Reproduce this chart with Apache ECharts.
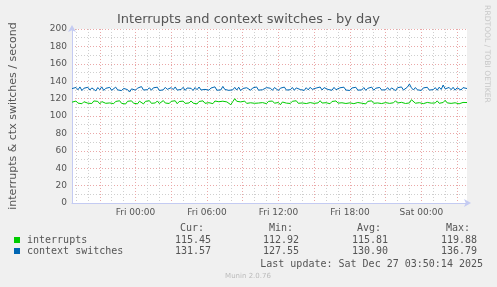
<!DOCTYPE html>
<html><head><meta charset="utf-8">
<script src="https://cdn.jsdelivr.net/npm/echarts@6/dist/echarts.min.js"></script>
<style>html,body{margin:0;padding:0;background:#f0f0f0}#c{width:497px;height:287px}</style>
</head><body><div id="c"></div>
<script>
const titleText = 'Interrupts and context switches - by day';
const yAxisName = 'interrupts & ctx switches / second';
const seriesNames = ['interrupts', 'context switches'];
const seriesColors = ['#00CC00', '#0066B3'];
const xTickLabels = ['Fri 00:00', 'Fri 06:00', 'Fri 12:00', 'Fri 18:00', 'Sat 00:00'];
const yTickValues = [0, 20, 40, 60, 80, 100, 120, 140, 160, 180, 200];
const statHeaders = ['Cur:', 'Min:', 'Avg:', 'Max:'];
const interruptsStats = ['115.45', '112.92', '115.81', '119.88'];
const ctxStats = ['131.57', '127.55', '130.90', '136.79'];
const lastUpdate = 'Last update: Sat Dec 27 03:50:14 2025';
const footerText = 'Munin 2.0.76';
const watermark = 'RRDTOOL / TOBI OETIKER';

// 10-minute samples starting Thu 18:40
const dayNames = ['Sun','Mon','Tue','Wed','Thu','Fri','Sat'];
const startDay = 4, startMinute = 18 * 60 + 40, stepMinutes = 10, sampleCount = 200;
const categories = [];
for (let i = 0; i < sampleCount; i++) {
  const t = startMinute + i * stepMinutes;
  const d = dayNames[(startDay + Math.floor(t / 1440)) % 7];
  const m = t % 1440;
  const hh = String(Math.floor(m / 60)).padStart(2, '0');
  const mm = String(m % 60).padStart(2, '0');
  categories.push(d + ' ' + hh + ':' + mm);
}

const interrupts = [
115.9,114.3,117.2,114.8,116.9,114.1,116.4,117.6,114.7,116.2,
114.4,117.3,115.1,116.8,113.9,116.6,117.8,114.6,116.1,115.0,
117.1,114.2,116.7,115.3,117.5,114.5,116.0,113.8,116.9,115.2,
117.4,114.7,116.3,114.0,117.0,115.5,113.9,116.8,115.1,117.6,
114.6,116.5,115.0,117.3,114.3,116.2,117.7,114.9,116.0,114.4,
116.9,115.4,117.5,114.1,116.6,115.2,117.1,114.5,116.3,115.0,
117.3,114.8,116.1,113.9,116.7,115.6,117.4,114.6,116.0,115.3,
116.8,114.2,117.2,115.1,116.4,114.7,117.0,115.5,116.2,114.3,
113.0,116.5,119.88,116.9,114.8,116.2,115.0,117.1,114.5,116.4,
115.2,117.3,114.6,116.0,114.9,117.0,115.4,116.6,114.2,116.8,
115.0,117.2,114.7,116.3,115.5,112.92,116.1,117.4,114.8,116.0,
114.4,116.9,115.2,117.5,114.6,116.3,115.0,117.1,114.3,116.5,
115.4,117.0,114.5,116.2,115.1,117.6,114.9,116.4,115.3,117.2,
114.1,116.7,115.6,117.3,114.8,116.0,115.2,117.0,114.4,116.6,
115.1,116.9,114.2,116.4,115.5,117.2,114.7,116.1,113.9,116.8,
115.3,117.4,114.6,116.2,115.0,117.1,114.3,116.5,115.4,116.9,
114.5,116.3,115.2,117.5,114.9,116.0,115.7,117.3,114.4,116.6,
115.0,118.7,116.8,114.7,116.5,115.3,117.0,114.2,116.4,115.6,
117.2,114.8,116.1,115.0,117.4,114.6,116.3,115.5,118.1,115.1,
116.9,114.5,116.6,115.2,117.3,114.0,116.2,115.6,116.8,115.45
];
const contextSwitches = [
131.5,129.6,132.8,130.1,133.4,129.3,131.9,130.4,133.0,129.8,
132.3,130.6,128.9,132.7,130.2,133.5,129.4,131.8,130.5,132.9,
129.5,131.4,133.2,130.0,132.1,129.2,131.7,133.6,130.3,127.55,
131.2,133.3,129.7,132.0,130.4,133.8,129.9,131.6,130.2,132.5,
129.6,132.4,130.8,133.1,129.3,131.5,130.1,132.9,130.6,129.4,
132.6,130.3,133.4,129.8,131.9,130.5,133.0,129.5,132.2,130.7,
131.8,129.4,132.7,130.2,133.3,129.9,131.4,130.6,132.8,129.7,
132.1,130.4,133.5,129.6,131.7,130.0,134.0,130.5,132.4,129.5,
131.3,130.1,132.9,129.8,133.1,129.2,131.6,130.7,132.5,130.3,
129.6,132.2,130.5,133.4,129.7,131.8,130.2,129.1,132.6,130.8,
131.9,129.5,132.7,130.6,129.3,132.0,130.1,133.2,129.8,131.4,
130.2,132.8,129.6,132.3,134.2,130.4,131.9,129.4,132.5,130.0,
133.0,130.6,129.2,132.1,130.3,133.3,129.9,132.6,134.8,130.5,
131.7,129.6,132.9,130.2,129.0,132.4,130.7,133.1,129.8,131.5,
129.4,132.2,130.6,133.0,129.7,131.3,130.0,132.7,129.5,131.8,
130.3,133.2,129.6,131.9,130.5,132.8,129.9,131.4,130.1,132.6,
129.7,132.3,130.8,129.2,132.5,130.4,133.4,129.8,131.6,133.2,
136.79,132.4,129.9,132.7,130.1,131.8,129.4,132.3,130.6,133.0,
129.8,131.9,130.3,132.6,129.6,133.1,130.5,135.6,131.2,129.9,
132.8,130.2,133.0,129.7,132.4,130.8,129.9,132.6,130.4,131.57
];

const minorColor = '#cfcfcf';
const majorColor = '#eaa8a8';
const axisColor = '#c4cbf2';
const txtColor = '#555555';
const sans = '"DejaVu Sans", sans-serif';
const mono = '"DejaVu Sans Mono", monospace';

function isHour(v) { return v.slice(-2) === '00'; }
function isMajor(v) { return isHour(v) && (parseInt(v.slice(4, 6), 10) % 3 === 0); }

const chart = echarts.init(document.getElementById('c'), null, { renderer: 'canvas' });

const graphics = [];
const headerEnds = [204, 293, 381, 470];
const valueEnds = [211, 299, 388, 477];
const rowY = [240, 251];
const stats = [interruptsStats, ctxStats];
statHeaders.forEach((h, k) => graphics.push({
  type: 'text', x: headerEnds[k], y: 228,
  style: { text: h, font: '10px ' + mono, fill: txtColor, align: 'right', verticalAlign: 'middle' }
}));
seriesNames.forEach((n, r) => {
  graphics.push({ type: 'rect', shape: { x: 14, y: rowY[r] - 3, width: 6, height: 6 }, style: { fill: seriesColors[r] } });
  graphics.push({ type: 'text', x: 27, y: rowY[r],
    style: { text: n, font: '10px ' + mono, fill: txtColor, align: 'left', verticalAlign: 'middle' } });
  stats[r].forEach((s, k) => graphics.push({
    type: 'text', x: valueEnds[k], y: rowY[r],
    style: { text: s, font: '10px ' + mono, fill: txtColor, align: 'right', verticalAlign: 'middle' }
  }));
});
graphics.push({ type: 'text', x: 483, y: 264,
  style: { text: lastUpdate, font: '10px ' + mono, fill: txtColor, align: 'right', verticalAlign: 'middle' } });
graphics.push({ type: 'text', x: 248, y: 276,
  style: { text: footerText, font: '7px ' + sans, fill: '#bbbbbb', align: 'center', verticalAlign: 'middle' } });
graphics.push({ type: 'text', x: 487, y: 54, rotation: -Math.PI / 2,
  style: { text: watermark, font: '7.6px ' + sans, fill: '#c8c8c8', align: 'center', verticalAlign: 'middle' } });

chart.setOption({
  animation: false,
  backgroundColor: '#f0f0f0',
  title: {
    text: titleText, left: 'center', top: 8,
    textStyle: { fontFamily: sans, fontSize: 13, fontWeight: 'normal', color: txtColor }
  },
  grid: { left: 67, right: 30, top: 29, bottom: 84, show: true, backgroundColor: '#ffffff', borderWidth: 0 },
  xAxis: [{
    type: 'category', data: categories, boundaryGap: false,
    axisLine: { show: true, lineStyle: { color: axisColor, width: 1 }, symbol: ['none', 'arrow'], symbolSize: [6, 7], symbolOffset: [0, 4] },
    axisTick: { show: false },
    axisLabel: {
      interval: (i, v) => xTickLabels.indexOf(v) >= 0,
      color: txtColor, fontFamily: sans, fontSize: 9, margin: 5
    },
    splitLine: { show: true, interval: (i, v) => isHour(v) && !isMajor(v), lineStyle: { color: minorColor, type: [1, 2], width: 1 } }
  }, {
    type: 'category', data: categories, boundaryGap: false, position: 'bottom',
    axisLine: { show: false }, axisTick: { show: false }, axisLabel: { show: false },
    splitLine: { show: true, interval: (i, v) => isMajor(v), lineStyle: { color: majorColor, type: [1, 2], width: 1 } }
  }],
  yAxis: {
    type: 'value', min: yTickValues[0], max: yTickValues[yTickValues.length - 1], interval: 20,
    name: yAxisName, nameLocation: 'middle', nameGap: 53,
    nameTextStyle: { fontFamily: sans, fontSize: 11, color: txtColor },
    axisLine: { show: true, lineStyle: { color: axisColor, width: 1 }, symbol: ['none', 'arrow'], symbolSize: [6, 7], symbolOffset: [0, 4] },
    axisTick: { show: false },
    axisLabel: { color: txtColor, fontFamily: sans, fontSize: 9, margin: 5 },
    splitLine: { show: true, lineStyle: { color: majorColor, type: [1, 2], width: 1 } },
    minorTick: { show: false, splitNumber: 2 },
    minorSplitLine: { show: true, lineStyle: { color: minorColor, type: [1, 2], width: 1 } }
  },
  series: [{
    name: seriesNames[0], type: 'line', xAxisIndex: 0, data: interrupts, showSymbol: false,
    lineStyle: { color: seriesColors[0], width: 1 }, itemStyle: { color: seriesColors[0] }, z: 3
  }, {
    name: seriesNames[1], type: 'line', xAxisIndex: 0, data: contextSwitches, showSymbol: false,
    lineStyle: { color: seriesColors[1], width: 1 }, itemStyle: { color: seriesColors[1] }, z: 3
  }],
  graphic: graphics
});
</script>
</body></html>
